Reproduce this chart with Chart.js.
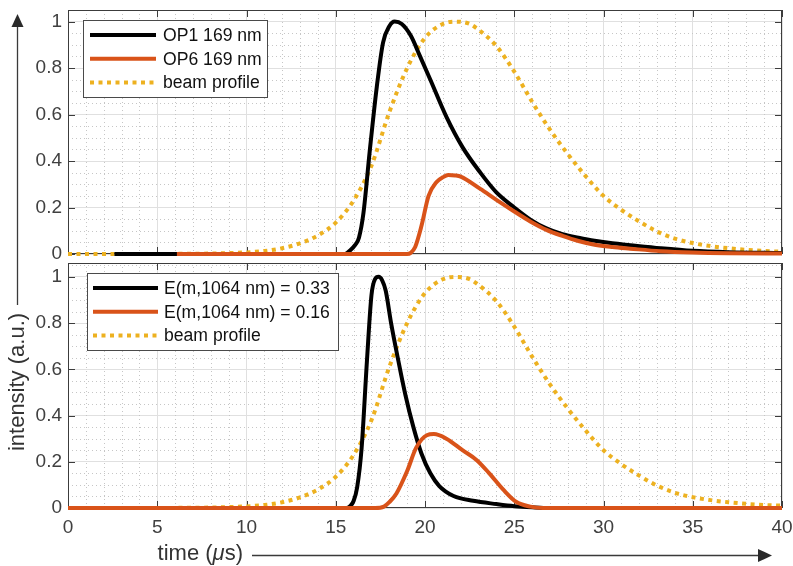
<!DOCTYPE html>
<html>
<head>
<meta charset="utf-8">
<script src="https://cdn.jsdelivr.net/npm/chart.js@4.4.1/dist/chart.umd.min.js"></script>
<style>
  html, body { margin: 0; padding: 0; background: #fff; }
  #wrap { position: relative; width: 793px; height: 566px; overflow: hidden; background: #fff; font-family: "Liberation Sans", Arial, sans-serif; }
  canvas { position: absolute; left: 0; top: 0; }
  .leg { position: absolute; background: #fff; border: 1px solid #4a4a4a; box-sizing: border-box; }
  .legtxt { position: absolute; font-size: 17.6px; color: #111; white-space: nowrap; line-height: 20px; transform: translateY(-50%); }
  .lab { position: absolute; font-size: 22px; color: #333; white-space: nowrap; line-height: 24px; height: 24px; }
</style>
</head>
<body>
<div id="wrap">
  <canvas id="c1" width="793" height="566"></canvas>
  <canvas id="c2" width="793" height="566"></canvas>
  <svg id="ov" width="793" height="566" style="position:absolute;left:0;top:0"></svg>
  <div class="lab" id="ylab" style="left:-83px;top:370px;width:200px;text-align:center;transform:rotate(-90deg);">intensity (a.u.)</div>
  <div class="lab" id="xlab" style="left:43px;top:541px;width:200px;text-align:right;">time (<i>μ</i>s)</div>
</div>
<script>
// ---------------- data ----------------
const xTicks = [0, 5, 10, 15, 20, 25, 30, 35, 40];
const yTicks = [0, 0.2, 0.4, 0.6, 0.8, 1];

const topLegend = ['OP1 169 nm', 'OP6 169 nm', 'beam profile'];
const botLegend = ['E(m,1064 nm) = 0.33', 'E(m,1064 nm) = 0.16', 'beam profile'];

// beam profile (both panels)
const beamT = [0, 2, 4, 6, 8, 9, 10, 11, 12, 13, 14, 15, 16, 17, 18, 19, 20, 21, 21.7, 22.5, 23, 24, 25, 26, 27, 28, 29, 30, 31, 32, 33, 34, 35, 36, 37, 38, 39, 40];
const beamV = [0, 0, 0, 0.0005, 0.002, 0.004, 0.007, 0.013, 0.025, 0.046, 0.08, 0.135, 0.23, 0.38, 0.61, 0.8, 0.93, 0.99, 1.0, 0.99, 0.965, 0.895, 0.785, 0.655, 0.535, 0.43, 0.335, 0.25, 0.19, 0.14, 0.097, 0.066, 0.047, 0.034, 0.025, 0.018, 0.013, 0.01];

// top panel: OP1 169 nm
const op1T = [2.6, 15.5, 15.8, 16.1, 16.3, 16.55, 16.9, 17.3, 17.65, 18.0, 18.3, 18.7, 19.2, 19.7, 20.3, 21.2, 22.1, 23.1, 24.0, 25.0, 25.9, 26.8, 27.7, 28.6, 29.5, 30.5, 31.5, 33.2, 35.0, 37.0, 40.0];
const op1V = [0, 0, 0.015, 0.04, 0.07, 0.175, 0.44, 0.72, 0.91, 0.98, 1.0, 0.99, 0.94, 0.855, 0.75, 0.59, 0.46, 0.35, 0.265, 0.2, 0.148, 0.11, 0.085, 0.07, 0.057, 0.046, 0.038, 0.025, 0.014, 0.008, 0.004];

// top panel: OP6 169 nm
const op6T = [6.1, 19.0, 19.2, 19.45, 19.8, 20.2, 20.65, 21.0, 21.3, 21.7, 22.0, 23.1, 24.0, 25.0, 25.9, 26.8, 27.7, 28.6, 29.5, 30.5, 31.5, 33.2, 35.0, 37.0, 40.0];
const op6V = [0, 0, 0.005, 0.03, 0.12, 0.25, 0.31, 0.33, 0.34, 0.338, 0.333, 0.28, 0.233, 0.183, 0.14, 0.104, 0.078, 0.056, 0.04, 0.03, 0.023, 0.012, 0.006, 0.003, 0.002];

// bottom panel: E(m,1064 nm) = 0.33
const e33T = [0, 15.6, 15.8, 16.0, 16.2, 16.45, 16.75, 17.0, 17.2, 17.4, 17.6, 17.8, 18.1, 18.5, 18.9, 19.35, 19.8, 20.3, 20.8, 21.6, 22.7, 24.0, 25.0, 26.0, 27.0, 40];
const e33V = [0, 0, 0.008, 0.03, 0.09, 0.26, 0.64, 0.92, 0.99, 1.0, 0.985, 0.94, 0.8, 0.64, 0.49, 0.35, 0.236, 0.15, 0.095, 0.052, 0.031, 0.017, 0.008, 0.003, 0, 0];

// bottom panel: E(m,1064 nm) = 0.16
const e16T = [0, 17.2, 17.7, 18.0, 18.4, 19.0, 19.5, 20.1, 20.5, 21.2, 22.1, 22.9, 23.6, 24.4, 25.1, 25.9, 26.6, 40];
const e16V = [0, 0, 0.006, 0.025, 0.063, 0.16, 0.26, 0.315, 0.32, 0.30, 0.25, 0.207, 0.15, 0.078, 0.027, 0.006, 0, 0];

// ---------------- styles ----------------
const BLACK = '#000000', ORANGE = '#D95319', GOLD = '#EDB120';
const FONT = '"Liberation Sans", Arial, sans-serif';
const DOT = [4, 4.5];
const LW = 4;

const pts = (t, v) => t.map((x, i) => ({ x, y: v[i] }));
function ds(label, t, v, color, order, dotted) {
  return {
    label, data: pts(t, v), borderColor: color, backgroundColor: color,
    borderWidth: LW, borderDash: dotted ? DOT : [],
    borderCapStyle: 'butt', borderJoinStyle: 'round',
    pointRadius: 0, fill: false, cubicInterpolationMode: 'monotone', order,
    clip: 4
  };
}

const frame = {
  id: 'frame',
  beforeDatasetsDraw(chart) {
    const { ctx, chartArea: a, scales: { x, y } } = chart;
    ctx.save();
    // minor grid (dotted)
    ctx.strokeStyle = '#c6c6c6'; ctx.lineWidth = 1; ctx.setLineDash([1, 3]);
    ctx.beginPath();
    for (let t = 1; t < 40; t++) {
      if (t % 5 === 0) continue;
      const px = Math.round(x.getPixelForValue(t)) + 0.5;
      ctx.moveTo(px, a.top); ctx.lineTo(px, a.bottom);
    }
    for (let k = 1; k * 0.05 < y.max - 1e-9; k++) {
      if (k % 4 === 0) continue;
      const py = Math.round(y.getPixelForValue(k * 0.05)) + 0.5;
      ctx.moveTo(a.left, py); ctx.lineTo(a.right, py);
    }
    ctx.stroke();
    ctx.setLineDash([]);
    // box
    ctx.strokeStyle = '#3c3c3c'; ctx.lineWidth = 1;
    ctx.strokeRect(a.left + 0.5, a.top + 0.5, a.right - a.left - 1, a.bottom - a.top - 1);
    // inward ticks
    const L = 7;
    ctx.beginPath();
    xTicks.forEach(v => {
      const px = Math.round(x.getPixelForValue(v)) + 0.5;
      ctx.moveTo(px, a.top); ctx.lineTo(px, a.top + L);
      ctx.moveTo(px, a.bottom); ctx.lineTo(px, a.bottom - L);
    });
    yTicks.forEach(v => {
      const py = Math.round(y.getPixelForValue(v)) + 0.5;
      ctx.moveTo(a.left, py); ctx.lineTo(a.left + L, py);
      ctx.moveTo(a.right, py); ctx.lineTo(a.right - L, py);
    });
    ctx.stroke();
    ctx.restore();
  }
};

function makeChart(id, datasets, yMax, padTop, padBottom, xH, showX) {
  return new Chart(document.getElementById(id), {
    type: 'line',
    data: { datasets },
    options: {
      responsive: false, animation: false, devicePixelRatio: 1,
      layout: { padding: { left: 0, right: 11, top: padTop, bottom: padBottom } },
      plugins: { legend: { display: false }, tooltip: { enabled: false } },
      scales: {
        x: {
          type: 'linear', min: 0, max: 40,
          afterBuildTicks: s => { s.ticks = xTicks.map(v => ({ value: v })); },
          afterFit: s => { s.height = xH; s.paddingLeft = 0; s.paddingRight = 0; },
          ticks: { display: showX, autoSkip: false, maxRotation: 0, padding: 8, color: '#404040',
                   font: { family: FONT, size: 19 }, callback: v => String(v) },
          grid: { color: '#e0e0e0', drawTicks: false },
          border: { display: false }
        },
        y: {
          type: 'linear', min: 0, max: yMax,
          afterBuildTicks: s => { s.ticks = yTicks.map(v => ({ value: v })); },
          afterFit: s => { s.width = 68; s.paddingTop = 0; s.paddingBottom = 0; },
          ticks: { padding: 6, color: '#404040', font: { family: FONT, size: 19 },
                   callback: v => String(+(+v).toFixed(2)) },
          grid: { color: '#e0e0e0', drawTicks: false },
          border: { display: false }
        }
      }
    },
    plugins: [frame]
  });
}

makeChart('c1', [
  ds(topLegend[2], beamT, beamV, GOLD, 3, true),
  ds(topLegend[0], op1T, op1V, BLACK, 2, false),
  ds(topLegend[1], op6T, op6V, ORANGE, 1, false)
], 1.05, 10, 312, 0, false);

makeChart('c2', [
  ds(botLegend[2], beamT, beamV, GOLD, 3, true),
  ds(botLegend[0], e33T, e33V, BLACK, 2, false),
  ds(botLegend[1], e16T, e16V, ORANGE, 1, false)
], 1.06, 263, 0, 58, true);

// ---------------- legends & arrows ----------------
const wrap = document.getElementById('wrap');
const svg = document.getElementById('ov');
const NS = 'http://www.w3.org/2000/svg';
function sv(tag, attrs) { const e = document.createElementNS(NS, tag); for (const k in attrs) e.setAttribute(k, attrs[k]); svg.appendChild(e); return e; }

function legend(box, labels, sx0, sx1, tx) {
  const d = document.createElement('div');
  d.className = 'leg';
  d.style.left = box.l + 'px'; d.style.top = box.t + 'px';
  d.style.width = (box.r - box.l) + 'px'; d.style.height = (box.b - box.t) + 'px';
  wrap.insertBefore(d, svg);
  const colors = [BLACK, ORANGE, GOLD];
  const rows = [15, 38.7, 62.4];
  labels.forEach((lab, i) => {
    const y = box.t + rows[i];
    const a = { x1: sx0, x2: sx1, y1: y, y2: y, stroke: colors[i], 'stroke-width': LW };
    if (i === 2) a['stroke-dasharray'] = DOT.join(' ');
    sv('line', a);
    const t = document.createElement('div');
    t.className = 'legtxt';
    t.style.left = tx + 'px'; t.style.top = y + 'px';
    t.textContent = lab;
    wrap.appendChild(t);
  });
}
legend({ l: 83, t: 20, r: 268, b: 98 }, topLegend, 90, 156, 163);
legend({ l: 87, t: 273, r: 339, b: 351 }, botLegend, 93, 158, 164);

// axis arrows
sv('line', { x1: 17.5, y1: 305, x2: 17.5, y2: 26, stroke: '#3a3a3a', 'stroke-width': 1.3 });
sv('polygon', { points: '17.5,14 11.5,27 23.5,27', fill: '#2a2a2a' });
sv('line', { x1: 252, y1: 555.5, x2: 760, y2: 555.5, stroke: '#3a3a3a', 'stroke-width': 1.3 });
sv('polygon', { points: '772,555.5 758,549 758,562', fill: '#2a2a2a' });
</script>
</body>
</html>
